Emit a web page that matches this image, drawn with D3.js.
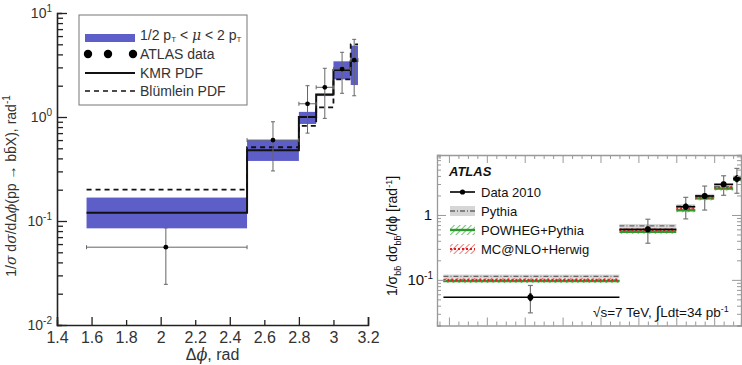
<!DOCTYPE html>
<html>
<head>
<meta charset="utf-8">
<script src="https://cdn.jsdelivr.net/npm/d3@7"></script>
<style>
  body { margin: 0; background: #fff; }
  svg { display: block; font-family: Arial, "Liberation Sans", sans-serif; }
</style>
</head>
<body>
<div id="chart"></div>
<script>
// ---- data ----
const binEdges = [1.571, 2.5, 2.8, 2.9, 3.0, 3.1, 3.142];
const binCenters = [2.03, 2.65, 2.85, 2.95, 3.05, 3.12];

// left panel: kT-factorization predictions
const scaleBandLow = [0.085, 0.378, 0.857, 1.59, 2.30, 2.03];
const scaleBandHigh = [0.168, 0.60, 1.12, 1.67, 3.43, 4.85];
const kmrPdf = [0.12, 0.479, 1.0, 1.65, 2.83, 3.48];
const blumleinPdf = [0.2, 0.512, 0.82, 1.24, 2.30, 5.0];
const atlasLeft = [0.056, 0.60, 1.34, 1.93, 2.89, 3.53];
const atlasLeftUp = [0.086, 0.90, 2.0, 2.94, 4.19, 5.58];
const atlasLeftDown = [0.0246, 0.303, 0.70, 0.97, 1.69, 1.60];
const leftXTicks = [1.4, 1.6, 1.8, 2.0, 2.2, 2.4, 2.6, 2.8, 3.0, 3.2];
const leftYDecades = [-2, -1, 0, 1];

// right panel: ATLAS
const data2010 = [0.054, 0.60, 1.34, 1.96, 2.97, 3.62];
const data2010Up = [0.082, 0.86, 1.87, 2.79, 4.02, 5.22];
const data2010Down = [0.031, 0.367, 0.87, 1.19, 2.01, 2.16];
const data2010StatUp = [0.062, 0.66, 1.50, 2.15, 3.25, 4.1];
const data2010StatDown = [0.047, 0.54, 1.20, 1.78, 2.72, 3.2];
const pythia = [0.113, 0.68, 1.37, 1.98, 2.75, 3.8];
const powheg = [0.096, 0.55, 1.18, 1.80, 2.55, 3.5];
const mcnlo = [0.100, 0.59, 1.25, 1.87, 2.65, 3.6];

const W = 742, H = 365;
const svg = d3.select('#chart').append('svg')
  .attr('width', W).attr('height', H);

const defs = svg.append('defs');
function hatch(id, color) {
  const p = defs.append('pattern')
    .attr('id', id).attr('patternUnits', 'userSpaceOnUse')
    .attr('width', 4).attr('height', 4)
    .attr('patternTransform', 'rotate(45)');
  p.append('line').attr('x1', 0).attr('y1', 0).attr('x2', 0).attr('y2', 4)
    .attr('stroke', color).attr('stroke-width', 1.4);
}
hatch('hatchGreen', '#3aa53a');
hatch('hatchRed', '#e04848');

const bins = binCenters.map((c, i) => ({ i, x0: binEdges[i], x1: binEdges[i + 1], xc: c }));

// ================= LEFT PANEL =================
const xL = d3.scaleLinear().domain([1.4, 3.2]).range([57, 368]);
const yL = d3.scaleLog().domain([0.01, 10]).range([325, 13]);
const gL = svg.append('g');

// uncertainty band
gL.selectAll('rect.band').data(bins).join('rect')
  .attr('x', d => xL(d.x0))
  .attr('width', d => xL(d.x1) - xL(d.x0))
  .attr('y', d => yL(scaleBandHigh[d.i]))
  .attr('height', d => yL(scaleBandLow[d.i]) - yL(scaleBandHigh[d.i]))
  .attr('fill', '#5e5ec9');

const stepPts = (vals) => {
  const pts = bins.map(d => [d.x0, vals[d.i]]);
  pts.push([binEdges[binEdges.length - 1], vals[vals.length - 1]]);
  return pts;
};
const stepL = d3.line().curve(d3.curveStepAfter).x(d => xL(d[0])).y(d => yL(d[1]));

gL.append('path').datum(stepPts(blumleinPdf)).attr('d', stepL)
  .attr('fill', 'none').attr('stroke', '#111').attr('stroke-width', 1.8)
  .attr('stroke-dasharray', '5,4');
gL.append('path').datum(stepPts(kmrPdf)).attr('d', stepL)
  .attr('fill', 'none').attr('stroke', '#111').attr('stroke-width', 2);

// ATLAS data with error bars
const eb = gL.append('g').attr('stroke', '#666').attr('stroke-width', 1);
bins.forEach(d => {
  const cx = xL(d.xc), cy = yL(atlasLeft[d.i]);
  const yu = yL(atlasLeftUp[d.i]), yd = yL(atlasLeftDown[d.i]);
  eb.append('line').attr('x1', xL(d.x0)).attr('x2', xL(d.x1)).attr('y1', cy).attr('y2', cy);
  eb.append('line').attr('x1', xL(d.x0)).attr('x2', xL(d.x0)).attr('y1', cy - 2).attr('y2', cy + 2);
  eb.append('line').attr('x1', xL(d.x1)).attr('x2', xL(d.x1)).attr('y1', cy - 2).attr('y2', cy + 2);
  eb.append('line').attr('x1', cx).attr('x2', cx).attr('y1', yu).attr('y2', yd);
  eb.append('line').attr('x1', cx - 2).attr('x2', cx + 2).attr('y1', yu).attr('y2', yu);
  eb.append('line').attr('x1', cx - 2).attr('x2', cx + 2).attr('y1', yd).attr('y2', yd);
  gL.append('circle').attr('cx', cx).attr('cy', cy).attr('r', 2.4).attr('fill', '#000');
});

// axes
const majorX = [1.6, 2.0, 2.4, 2.8, 3.2];
const axB = gL.append('g').attr('transform', `translate(0,${yL(0.01)})`)
  .call(d3.axisBottom(xL).tickValues(leftXTicks).tickSize(-8).tickPadding(7)
    .tickFormat(d => String(+d.toFixed(1))));
axB.selectAll('.tick line')
  .attr('y2', d => majorX.some(m => Math.abs(m - d) < 1e-6) ? -8 : -5)
  .attr('stroke', '#222').attr('stroke-width', 1.3);
axB.select('.domain').attr('stroke', '#222').attr('stroke-width', 1.6);
axB.selectAll('text').attr('font-size', 16).attr('fill', '#333').attr('font-family', 'Arial, sans-serif');

const yTicksL = [];
leftYDecades.slice(0, -1).forEach(e => { for (let m = 1; m < 10; m++) yTicksL.push(m * Math.pow(10, e)); });
yTicksL.push(10);
const axLft = gL.append('g').attr('transform', `translate(${xL(1.4)},0)`)
  .call(d3.axisLeft(yL).tickValues(yTicksL).tickSize(-5).tickFormat(''));
axLft.selectAll('.tick line')
  .attr('x2', d => Math.abs(Math.log10(d) - Math.round(Math.log10(d))) < 1e-6 ? 10 : 6)
  .attr('stroke', '#222').attr('stroke-width', 1.3);
axLft.select('.domain').attr('stroke', '#222').attr('stroke-width', 1.6);

leftYDecades.forEach(e => {
  const t = gL.append('text').attr('x', 52).attr('y', yL(Math.pow(10, e)) + 5)
    .attr('text-anchor', 'end').attr('font-size', 14).attr('fill', '#333');
  t.append('tspan').text('10');
  t.append('tspan').attr('dy', -6).attr('font-size', 10).text(e);
});

// axis titles
gL.append('text').attr('x', xL(2.3)).attr('y', 360).attr('text-anchor', 'middle')
  .attr('font-size', 16).attr('fill', '#333')
  .html('Δ<tspan font-family="DejaVu Serif, serif" font-style="italic">ϕ</tspan>, rad');

const ylab = gL.append('text').attr('transform', `translate(16,186) rotate(-90)`)
  .attr('text-anchor', 'middle').attr('font-size', 14).attr('fill', '#333');
ylab.append('tspan').text('1/');
ylab.append('tspan').attr('font-style', 'italic').attr('font-family', 'DejaVu Serif, serif').text('σ');
ylab.append('tspan').text(' d');
ylab.append('tspan').attr('font-style', 'italic').attr('font-family', 'DejaVu Serif, serif').text('σ');
ylab.append('tspan').text('/dΔ');
ylab.append('tspan').attr('font-style', 'italic').attr('font-family', 'DejaVu Serif, serif').text('ϕ');
ylab.append('tspan').text('(pp → bb\u0304X), rad');
ylab.append('tspan').attr('dy', -6).attr('font-size', 10).text('-1');

// legend
const lg = gL.append('g');
lg.append('rect').attr('x', 79).attr('y', 15).attr('width', 168).attr('height', 90)
  .attr('fill', '#fff').attr('stroke', '#777').attr('stroke-width', 1);
lg.append('rect').attr('x', 85).attr('y', 34).attr('width', 50).attr('height', 8).attr('fill', '#5e5ec9');
[88, 108, 133].forEach(cx => lg.append('circle').attr('cx', cx).attr('cy', 54).attr('r', 4.2).attr('fill', '#000'));
lg.append('line').attr('x1', 85).attr('x2', 135).attr('y1', 73).attr('y2', 73).attr('stroke', '#111').attr('stroke-width', 1.8);
lg.append('line').attr('x1', 85).attr('x2', 135).attr('y1', 91).attr('y2', 91).attr('stroke', '#111')
  .attr('stroke-width', 1.6).attr('stroke-dasharray', '5,4');
const lt = (y) => lg.append('text').attr('x', 140).attr('y', y).attr('font-size', 14).attr('fill', '#333');
const l1 = lt(40);
l1.append('tspan').text('1/2 p');
l1.append('tspan').attr('dy', 2).attr('font-size', 8).text('T');
l1.append('tspan').attr('dy', -2).text(' < ');
l1.append('tspan').attr('font-style', 'italic').attr('font-family', 'DejaVu Serif, serif').text('μ');
l1.append('tspan').text(' < 2 p');
l1.append('tspan').attr('dy', 2).attr('font-size', 8).text('T');
lt(59).text('ATLAS data');
lt(78).text('KMR PDF');
lt(96).text('Blümlein PDF');

// ================= RIGHT PANEL =================
const xR = d3.scaleLinear().domain([1.537, 3.1416]).range([437, 741]);
const yR = d3.scaleLog().domain([0.0198, 8.4]).range([325.5, 155]);
const gR = svg.append('g');
const bandFrac = 0.07;

bins.forEach(d => {
  const x0 = xR(d.x0), x1 = xR(d.x1), w = x1 - x0;
  const band = (v, fill) => gR.append('rect').attr('x', x0).attr('width', w)
    .attr('y', yR(v * (1 + bandFrac))).attr('height', yR(v * (1 - bandFrac)) - yR(v * (1 + bandFrac)))
    .attr('fill', fill);
  band(pythia[d.i], '#d6d6d6');
  band(powheg[d.i], 'url(#hatchGreen)');
  band(mcnlo[d.i], 'url(#hatchRed)');
  gR.append('line').attr('x1', x0).attr('x2', x1).attr('y1', yR(powheg[d.i])).attr('y2', yR(powheg[d.i]))
    .attr('stroke', '#2e9a2e').attr('stroke-width', 2.4);
  gR.append('line').attr('x1', x0).attr('x2', x1).attr('y1', yR(mcnlo[d.i])).attr('y2', yR(mcnlo[d.i]))
    .attr('stroke', '#e02020').attr('stroke-width', 2.2).attr('stroke-dasharray', '2,2');
  gR.append('line').attr('x1', x0).attr('x2', x1).attr('y1', yR(pythia[d.i])).attr('y2', yR(pythia[d.i]))
    .attr('stroke', '#666').attr('stroke-width', 1.3).attr('stroke-dasharray', '5,2,1,2');
});

// data 2010
bins.forEach(d => {
  const cx = xR(d.xc), cy = yR(data2010[d.i]);
  const yu = yR(data2010Up[d.i]), yd = yR(data2010Down[d.i]);
  gR.append('line').attr('x1', xR(d.x0)).attr('x2', xR(d.x1)).attr('y1', cy).attr('y2', cy)
    .attr('stroke', '#000').attr('stroke-width', 1.6);
  const e = gR.append('g').attr('stroke', '#777').attr('stroke-width', 1.2);
  e.append('line').attr('x1', cx).attr('x2', cx).attr('y1', yu).attr('y2', yd);
  e.append('line').attr('x1', cx - 2.5).attr('x2', cx + 2.5).attr('y1', yu).attr('y2', yu);
  e.append('line').attr('x1', cx - 2.5).attr('x2', cx + 2.5).attr('y1', yd).attr('y2', yd);
  gR.append('line').attr('x1', cx).attr('x2', cx)
    .attr('y1', yR(data2010StatUp[d.i])).attr('y2', yR(data2010StatDown[d.i]))
    .attr('stroke', '#000').attr('stroke-width', 2.4);
  gR.append('circle').attr('cx', cx).attr('cy', cy).attr('r', 3).attr('fill', '#000');
});

// frame and ticks
const frameColor = '#999';
const xTicksR = d3.range(1.55, 3.15, 0.05);
const isMajR = d => Math.abs(d * 5 - Math.round(d * 5)) < 1e-6;
[[d3.axisBottom, 325.5, -1], [d3.axisTop, 155, 1]].forEach(([ax, y, s]) => {
  const a = gR.append('g').attr('transform', `translate(0,${y})`)
    .call(ax(xR).tickValues(xTicksR).tickSize(-4).tickFormat(''));
  a.selectAll('.tick line').attr('stroke', frameColor)
    .attr('y2', d => s * (isMajR(d) ? 8 : 4));
  a.select('.domain').attr('stroke', frameColor).attr('stroke-width', 1.3);
});
const yTicksR = [0.02, 0.03, 0.04, 0.05, 0.06, 0.07, 0.08, 0.09, 0.1, 0.2, 0.3, 0.4, 0.5, 0.6, 0.7, 0.8, 0.9, 1, 2, 3, 4, 5, 6, 7, 8];
const isDec = d => Math.abs(Math.log10(d) - Math.round(Math.log10(d))) < 1e-6;
[[d3.axisLeft, 437, 1], [d3.axisRight, 741, -1]].forEach(([ax, x, s]) => {
  const a = gR.append('g').attr('transform', `translate(${x},0)`)
    .call(ax(yR).tickValues(yTicksR).tickSize(-4).tickFormat(''));
  a.selectAll('.tick line').attr('stroke', frameColor)
    .attr('x2', d => s * (isDec(d) ? 9 : 4));
  a.select('.domain').attr('stroke', frameColor).attr('stroke-width', 1.3);
});

gR.append('text').attr('x', 432).attr('y', yR(1) + 5).attr('text-anchor', 'end')
  .attr('font-size', 15).attr('fill', '#111').text('1');
const t10 = gR.append('text').attr('x', 433).attr('y', yR(0.1) + 5).attr('text-anchor', 'end')
  .attr('font-size', 15).attr('fill', '#111');
t10.append('tspan').text('10');
t10.append('tspan').attr('dy', -6).attr('font-size', 10).text('-1');

const ylR = gR.append('text').attr('transform', 'translate(397,236) rotate(-90)')
  .attr('text-anchor', 'middle').attr('font-size', 14).attr('fill', '#111');
ylR.append('tspan').text('1/σ');
ylR.append('tspan').attr('dy', 4).attr('font-size', 9).text('bb\u0304');
ylR.append('tspan').attr('dy', -4).text(' dσ');
ylR.append('tspan').attr('dy', 4).attr('font-size', 9).text('bb\u0304');
ylR.append('tspan').attr('dy', -4).text('/dϕ [rad');
ylR.append('tspan').attr('dy', -5).attr('font-size', 9).text('-1');
ylR.append('tspan').attr('dy', 5).text(']');

gR.append('text').attr('x', 449).attr('y', 176).attr('font-size', 13)
  .attr('font-weight', 'bold').attr('font-style', 'italic').attr('fill', '#111').text('ATLAS');

// right legend
const lgR = gR.append('g');
const rowY = [192, 211, 230, 249];
lgR.append('line').attr('x1', 450).attr('x2', 475).attr('y1', rowY[0]).attr('y2', rowY[0]).attr('stroke', '#000').attr('stroke-width', 1.6);
lgR.append('circle').attr('cx', 462.5).attr('cy', rowY[0]).attr('r', 2.6).attr('fill', '#000');
lgR.append('rect').attr('x', 450).attr('y', rowY[1] - 5).attr('width', 25).attr('height', 10).attr('fill', '#d6d6d6');
lgR.append('line').attr('x1', 450).attr('x2', 475).attr('y1', rowY[1]).attr('y2', rowY[1]).attr('stroke', '#666').attr('stroke-width', 1.3).attr('stroke-dasharray', '5,2,1,2');
lgR.append('rect').attr('x', 450).attr('y', rowY[2] - 5).attr('width', 25).attr('height', 10).attr('fill', 'url(#hatchGreen)');
lgR.append('line').attr('x1', 450).attr('x2', 475).attr('y1', rowY[2]).attr('y2', rowY[2]).attr('stroke', '#2e9a2e').attr('stroke-width', 2.4);
lgR.append('rect').attr('x', 450).attr('y', rowY[3] - 5).attr('width', 25).attr('height', 10).attr('fill', 'url(#hatchRed)');
lgR.append('line').attr('x1', 450).attr('x2', 475).attr('y1', rowY[3]).attr('y2', rowY[3]).attr('stroke', '#e02020').attr('stroke-width', 2.2).attr('stroke-dasharray', '2,2');
['Data 2010', 'Pythia', 'POWHEG+Pythia', 'MC@NLO+Herwig'].forEach((s, i) => {
  lgR.append('text').attr('x', 481).attr('y', rowY[i] + 5).attr('font-size', 13).attr('fill', '#111').text(s);
});

const lum = gR.append('text').attr('x', 593).attr('y', 317).attr('font-size', 13.5).attr('fill', '#111');
lum.append('tspan').text('√s=7 TeV,  ');
lum.append('tspan').attr('font-size', 17).attr('dy', 1).text('∫');
lum.append('tspan').attr('dy', -1).text('Ldt=34 pb');
lum.append('tspan').attr('dy', -5).attr('font-size', 9).text('-1');
</script>
</body>
</html>
